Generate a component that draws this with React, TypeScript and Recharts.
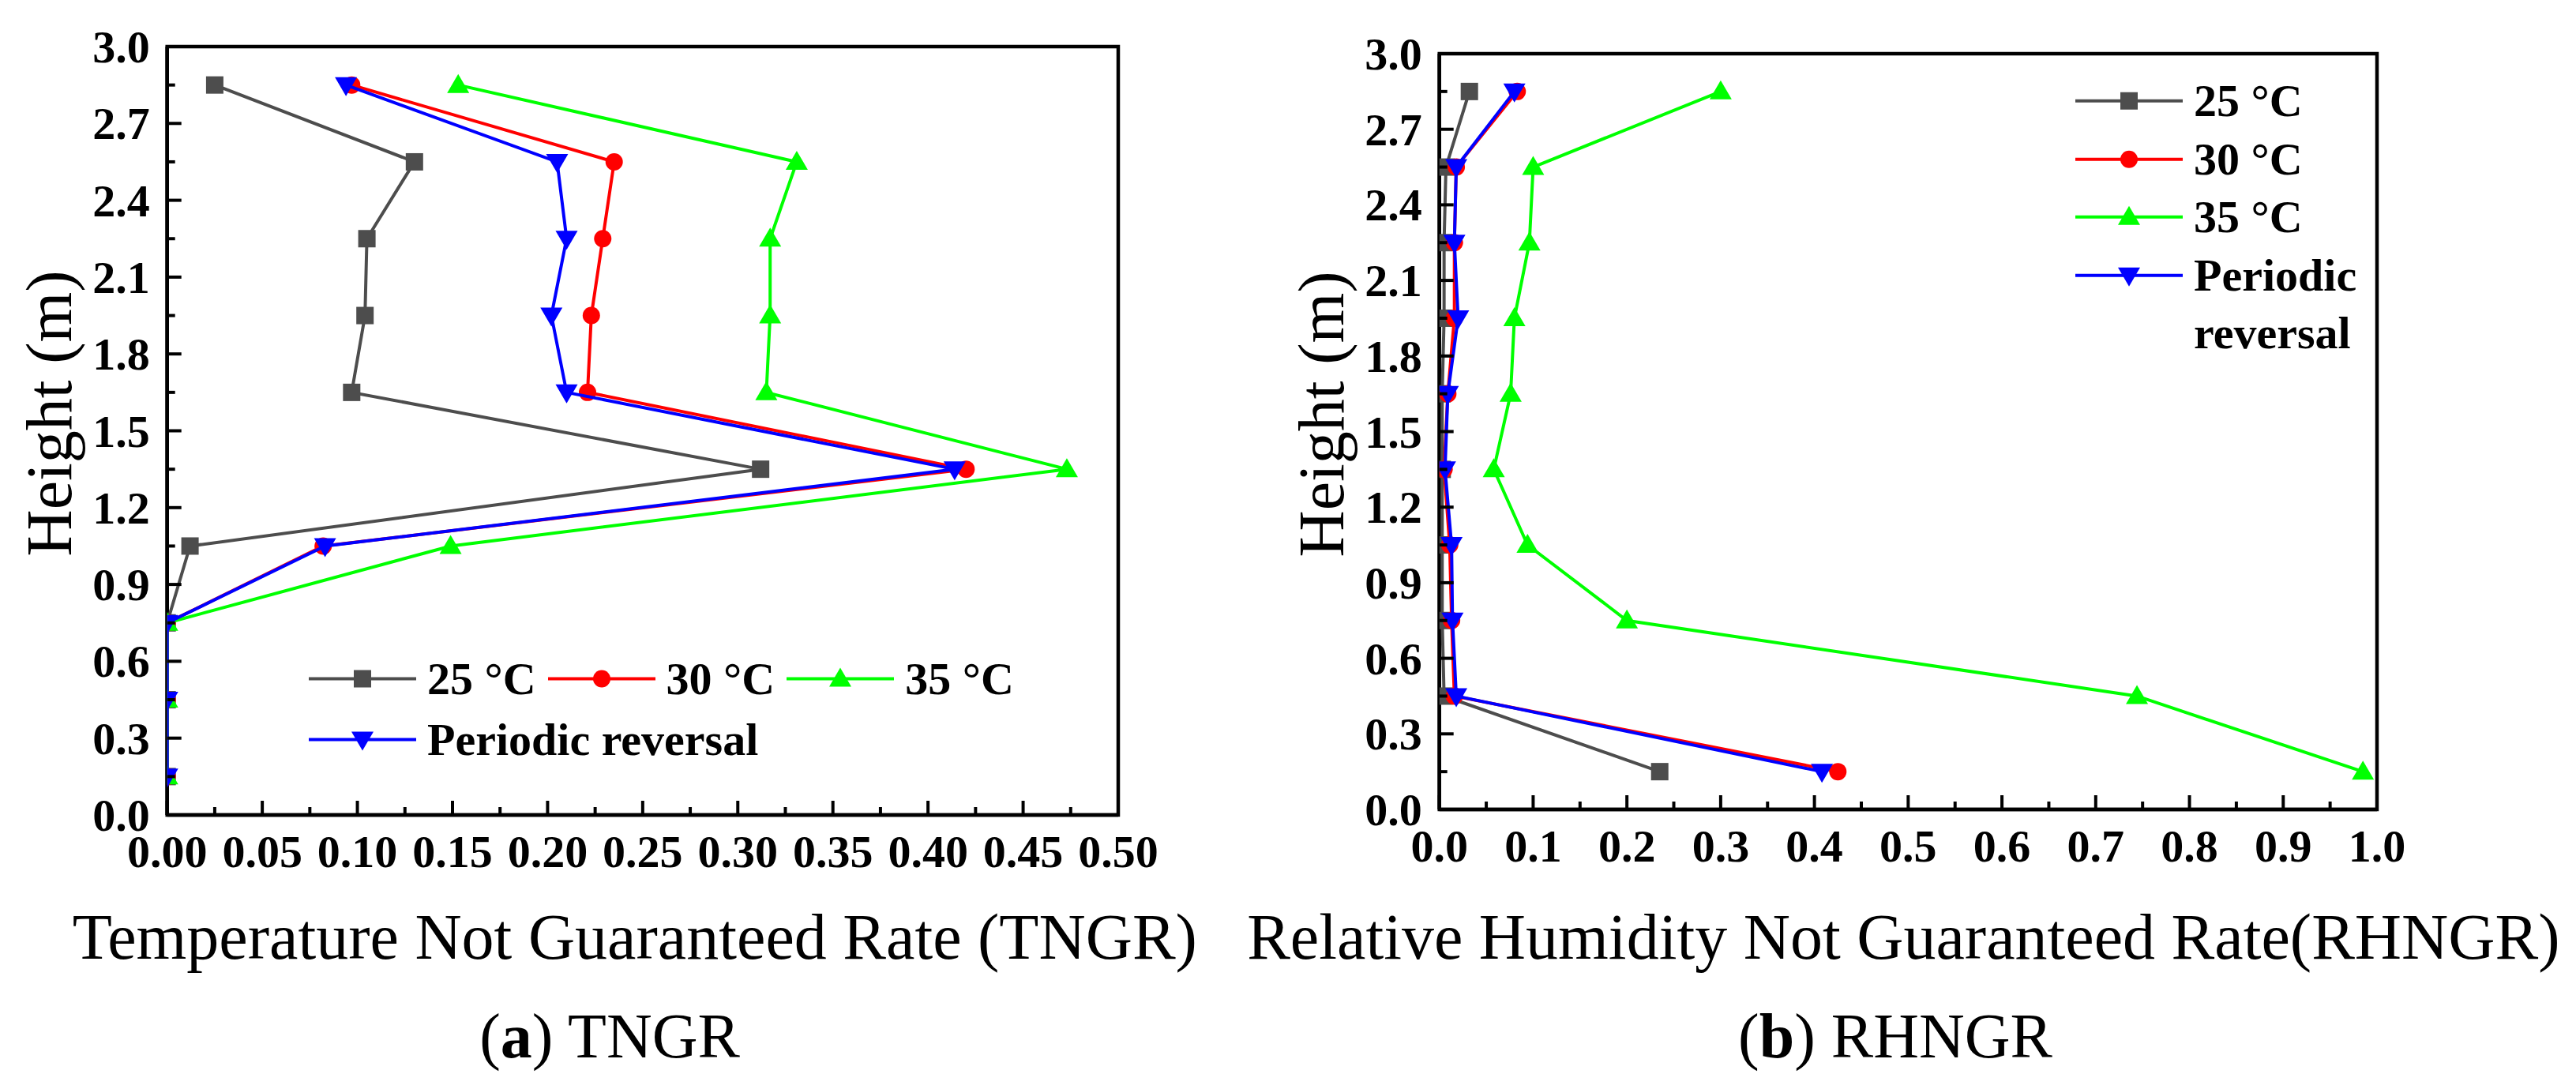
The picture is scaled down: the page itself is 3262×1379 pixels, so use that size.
// Two-panel profile chart: TNGR (a) and RHNGR (b) against height
import React from 'react';
import { ScatterChart, Scatter, XAxis, YAxis, ReferenceArea, Legend } from 'recharts';

const heights = [2.85, 2.55, 2.25, 1.95, 1.65, 1.35, 1.05, 0.75, 0.45, 0.15];

// (a) Temperature Not Guaranteed Rate
const tngr25 = [0.025, 0.13, 0.105, 0.104, 0.097, 0.312, 0.012, 0, 0, 0];
const tngr30 = [0.097, 0.235, 0.229, 0.223, 0.221, 0.42, 0.082, 0, 0, 0];
const tngr35 = [0.153, 0.331, 0.317, 0.317, 0.315, 0.473, 0.149, 0, 0, 0];
const tngrPeriodic = [0.094, 0.205, 0.21, 0.202, 0.21, 0.414, 0.083, 0, 0, 0];

// (b) Relative Humidity Not Guaranteed Rate
const rhngr25 = [0.032, 0.007, 0.005, 0.005, 0.003, 0.003, 0.003, 0.003, 0.005, 0.235];
const rhngr30 = [0.083, 0.018, 0.016, 0.016, 0.009, 0.005, 0.011, 0.013, 0.016, 0.425];
const rhngr35 = [0.3, 0.1, 0.096, 0.08, 0.076, 0.058, 0.094, 0.2, 0.744, 0.985];
const rhngrPeriodic = [0.08, 0.018, 0.016, 0.02, 0.009, 0.006, 0.013, 0.014, 0.018, 0.408];

const seriesNames = ['25 °C', '30 °C', '35 °C', 'Periodic reversal'];
const seriesColors = ['#4d4d4d', '#ff0000', '#00ff00', '#0000ff'];
const seriesMarkers = ['square', 'circle', 'triangle', 'triangleDown'];

const heightTicks = [0, 0.3, 0.6, 0.9, 1.2, 1.5, 1.8, 2.1, 2.4, 2.7, 3.0];
const tngrTicks = [0, 0.05, 0.1, 0.15, 0.2, 0.25, 0.3, 0.35, 0.4, 0.45, 0.5];
const rhngrTicks = [0, 0.1, 0.2, 0.3, 0.4, 0.5, 0.6, 0.7, 0.8, 0.9, 1.0];

const SERIF = "'Liberation Serif', 'Times New Roman', serif";

// majors plus a minor tick halfway between each pair
const withMinor = (majors: number[]) =>
  majors.flatMap((m, i) => (i === 0 ? [m] : [(majors[i - 1] + m) / 2, m]));

const toPoints = (values: number[]) => values.map((v, i) => ({ x: v, y: heights[i] }));

function Marker({ kind, cx, cy, color }: { kind: string; cx: number; cy: number; color: string }) {
  if (kind === 'square') return <rect x={cx - 11} y={cy - 11} width={22} height={22} fill={color} />;
  if (kind === 'circle') return <circle cx={cx} cy={cy} r={11} fill={color} />;
  if (kind === 'triangle')
    return <polygon points={`${cx},${cy - 14} ${cx + 14},${cy + 10} ${cx - 14},${cy + 10}`} fill={color} />;
  return <polygon points={`${cx - 14},${cy - 10} ${cx + 14},${cy - 10} ${cx},${cy + 14}`} fill={color} />;
}

function AxisTick(props: any) {
  const { x, y, payload, side, majors, digits } = props;
  const v = payload.value;
  const isMajor = majors.some((m: number) => Math.abs(m - v) < 1e-6);
  const len = isMajor ? 18 : 10;
  const textStyle = { fontFamily: SERIF, fontWeight: 700, fontSize: 58, fill: '#000' };
  if (side === 'bottom') {
    return (
      <g>
        <line x1={x} y1={y} x2={x} y2={y - len} stroke="#000" strokeWidth={4} />
        {isMajor && (
          <text x={x} y={y + 66} textAnchor="middle" style={textStyle}>
            {v.toFixed(digits)}
          </text>
        )}
      </g>
    );
  }
  return (
    <g>
      <line x1={x} y1={y} x2={x + len} y2={y} stroke="#000" strokeWidth={4} />
      {isMajor && (
        <text x={x - 22} y={y + 20} textAnchor="end" style={textStyle}>
          {v.toFixed(digits)}
        </text>
      )}
    </g>
  );
}

function YTitle({ viewBox }: any) {
  const x = viewBox.x + viewBox.width - 149;
  const y = viewBox.y + viewBox.height / 2 - 22;
  return (
    <text
      x={x}
      y={y}
      dy="0.33em"
      textAnchor="middle"
      transform={`rotate(-90 ${x} ${y})`}
      style={{ fontFamily: SERIF, fontSize: 82, fill: '#000' }}
    >
      Height (m)
    </text>
  );
}

function XTitle({ viewBox, text, dx, baseline }: any) {
  return (
    <text
      x={viewBox.x + viewBox.width / 2 + dx}
      y={viewBox.y + baseline}
      textAnchor="middle"
      style={{ fontFamily: SERIF, fontSize: 82, fill: '#000' }}
    >
      {text}
    </text>
  );
}

function LegendBox({ rows, rowHeight, textWidth }: { rows: number[][]; rowHeight: number; textWidth?: number }) {
  return (
    <div style={{ fontFamily: SERIF, fontWeight: 700, fontSize: 58, color: '#000' }}>
      {rows.map((row, r) => (
        <div key={r} style={{ display: 'flex', alignItems: 'flex-start' }}>
          {row.map((idx) => (
            <div key={idx} style={{ display: 'flex', alignItems: 'flex-start', marginRight: 15 }}>
              <svg width={136} height={rowHeight} style={{ display: 'block' }}>
                <line x1={0} y1={rowHeight / 2} x2={136} y2={rowHeight / 2} stroke={seriesColors[idx]} strokeWidth={4} />
                <Marker kind={seriesMarkers[idx]} cx={68} cy={rowHeight / 2} color={seriesColors[idx]} />
              </svg>
              <span
                style={{
                  marginLeft: 14,
                  lineHeight: `${rowHeight}px`,
                  maxWidth: textWidth,
                  whiteSpace: textWidth ? 'normal' : 'nowrap',
                }}
              >
                {seriesNames[idx]}
              </span>
            </div>
          ))}
        </div>
      ))}
    </div>
  );
}

function Panel({
  width,
  margin,
  xMax,
  xTicks,
  digits,
  series,
  title,
  titleDx,
  titleBaseline,
  legend,
}: any) {
  return (
    <ScatterChart width={width} height={1379} margin={margin}>
      <XAxis
        type="number"
        dataKey="x"
        domain={[0, xMax]}
        allowDataOverflow
        ticks={withMinor(xTicks)}
        interval={0}
        tickSize={0}
        tickMargin={0}
        height={200}
        axisLine={{ stroke: '#000', strokeWidth: 4.5 }}
        tickLine={false}
        tick={(p: any) => <AxisTick {...p} side="bottom" majors={xTicks} digits={digits} />}
        label={{
          content: (p: any) => <XTitle viewBox={p.viewBox} text={title} dx={titleDx} baseline={titleBaseline} />,
        }}
      />
      <YAxis
        type="number"
        dataKey="y"
        domain={[0, 3]}
        ticks={withMinor(heightTicks)}
        interval={0}
        tickSize={0}
        tickMargin={0}
        width={120}
        axisLine={{ stroke: '#000', strokeWidth: 4.5 }}
        tickLine={false}
        tick={(p: any) => <AxisTick {...p} side="left" majors={heightTicks} digits={1} />}
        label={{ content: (p: any) => <YTitle viewBox={p.viewBox} /> }}
      />
      <ReferenceArea x1={0} x2={xMax} y1={0} y2={3} fill="none" stroke="#000" strokeWidth={4.5} />
      {series.map((values: number[], i: number) => (
        <Scatter
          key={seriesNames[i]}
          name={seriesNames[i]}
          data={toPoints(values)}
          fill={seriesColors[i]}
          line={{ stroke: seriesColors[i], strokeWidth: 4 }}
          lineType="joint"
          isAnimationActive={false}
          shape={(p: any) => <Marker kind={seriesMarkers[i]} cx={p.cx} cy={p.cy} color={seriesColors[i]} />}
        />
      ))}
      <Legend
        layout="vertical"
        align="center"
        verticalAlign="middle"
        wrapperStyle={{ left: legend.left, top: legend.top, width: 'auto', height: 'auto' }}
        content={() => <LegendBox rows={legend.rows} rowHeight={legend.rowHeight} textWidth={legend.textWidth} />}
      />
    </ScatterChart>
  );
}

const captionStyle: React.CSSProperties = {
  position: 'absolute',
  top: 1272,
  width: 800,
  textAlign: 'center',
  fontFamily: SERIF,
  fontSize: 80,
  lineHeight: '80px',
  color: '#000',
};

export default function App() {
  return (
    <div style={{ position: 'absolute', left: 0, top: 0, width: 3262, height: 1379, background: '#fff', overflow: 'hidden' }}>
      <div style={{ position: 'absolute', left: 0, top: 0 }}>
        <Panel
          width={1550}
          margin={{ top: 59, right: 134, left: 91.7, bottom: 147 }}
          xMax={0.5}
          xTicks={tngrTicks}
          digits={2}
          series={[tngr25, tngr30, tngr35, tngrPeriodic]}
          title="Temperature Not Guaranteed Rate (TNGR)"
          titleDx={-10}
          titleBaseline={182}
          legend={{ left: 391, top: 820.5, rowHeight: 77, rows: [[0, 1, 2], [3]] }}
        />
      </div>
      <div style={{ position: 'absolute', left: 1550, top: 0 }}>
        <Panel
          width={1712}
          margin={{ top: 68, right: 252, left: 152.7, bottom: 154 }}
          xMax={1.0}
          xTicks={rhngrTicks}
          digits={1}
          series={[rhngr25, rhngr30, rhngr35, rhngrPeriodic]}
          title="Relative Humidity Not Guaranteed Rate(RHNGR)"
          titleDx={-6}
          titleBaseline={189}
          legend={{ left: 1078, top: 91.25, rowHeight: 73.5, rows: [[0], [1], [2], [3]], textWidth: 240 }}
        />
      </div>
      <div style={{ ...captionStyle, left: 772 - 400 }}>
        (<b>a</b>) TNGR
      </div>
      <div style={{ ...captionStyle, left: 2400 - 400 }}>
        (<b>b</b>) RHNGR
      </div>
    </div>
  );
}
